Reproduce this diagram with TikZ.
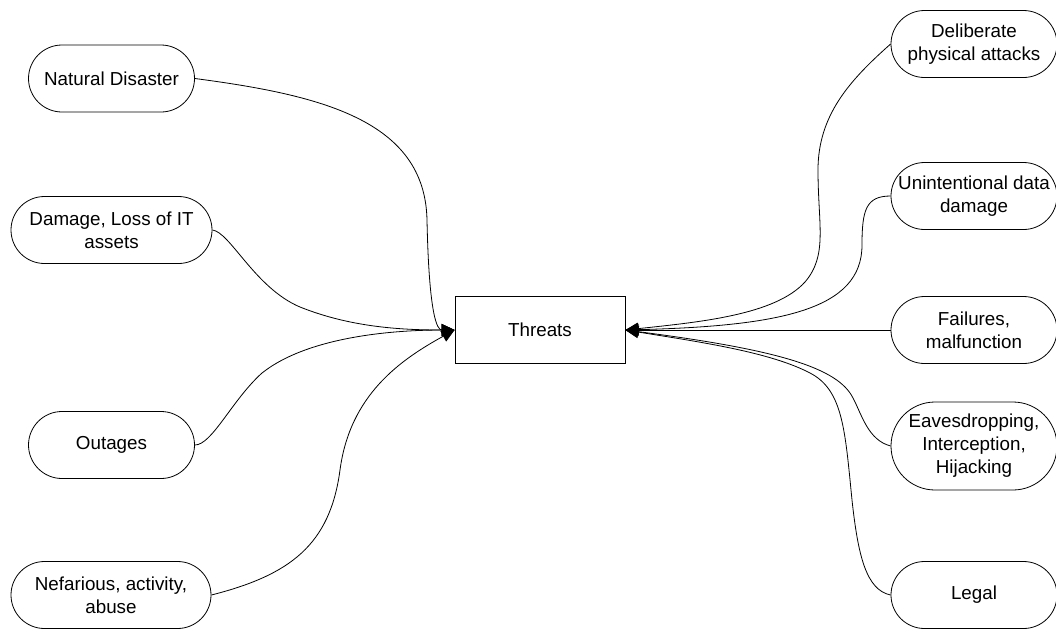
\documentclass[tikz,border=0pt]{standalone}
\usepackage{fontspec}
\setmainfont{Liberation Sans}
\usetikzlibrary{shapes.misc,arrows.meta}

\begin{document}
\begin{tikzpicture}[x=0.5pt,y=-0.5pt,
    threat/.style={rounded rectangle,draw,align=center,minimum width=85pt,minimum height=33.5pt,inner xsep=1pt,font=\fontsize{9.4}{11.5}\selectfont},
    core/.style={rectangle,draw,minimum width=85pt,minimum height=33.5pt,font=\fontsize{9.4}{11.5}\selectfont},
    conn/.style={-{Triangle[length=6.5pt,width=6pt]}}]
        \useasboundingbox (0,0) rectangle (1056,628);
        \clip (0,0) rectangle (1056,628);

        % 中间:Threats
        \node[core] (thr) at (540,330) {Threats};

        % 左侧
        \node[threat] (nd) at (111.5,78.5) {Natural Disaster};
        \node[threat,minimum width=102.5pt] (dmg) at (111.5,230) {Damage, Loss of IT\\assets};
        \node[threat] (outg) at (111.5,445) {Outages};
        \node[threat,minimum width=102pt] (nef) at (111,595) {Nefarious, activity,\\abuse};

        % 右侧
        \node[threat] (delib) at (974,44) {Deliberate\\physical attacks};
        \node[threat] (unint) at (974,196) {Unintentional data\\damage};
        \node[threat] (fail) at (974,330) {Failures,\\malfunction};
        \node[threat,minimum height=44pt] (eaves) at (974,446) {Eavesdropping,\\Interception,\\Hijacking};
        \node[threat] (legal) at (974,595) {Legal};

        % 左侧连线
        \draw[conn] (nd.east) .. controls (320,95) and (425,120) .. (427,220) .. controls (429,315) and (437,330) .. (thr.west);
        \draw[conn] (dmg.east) .. controls (230,232) and (255,288) .. (300,307) .. controls (350,327) and (400,330) .. (thr.west);
        \draw[conn] (outg.east) .. controls (212,445) and (232,400) .. (262,373) .. controls (310,335) and (400,330) .. (thr.west);
        \draw[conn] (nef.east) .. controls (290,575) and (330,545) .. (340,470) .. controls (350,395) and (400,360) .. (thr.west);

        % 右侧连线
        \draw[conn] (delib.west) .. controls (850,80) and (818,115) .. (818,170) .. controls (818,225) and (828,255) .. (805,282) .. controls (775,315) and (700,322) .. (thr.east);
        \draw[conn] (unint.west) .. controls (866,196) and (862,210) .. (862,245) .. controls (862,310) and (780,326) .. (thr.east);
        \draw[conn] (fail.west) -- (thr.east);
        \draw[conn] (eaves.west) .. controls (868,440) and (862,415) .. (853,398) .. controls (838,368) and (780,350) .. (thr.east);
        \draw[conn] (legal.west) .. controls (866,590) and (858,555) .. (852,500) .. controls (845,430) and (843,390) .. (810,373) .. controls (770,352) and (700,342) .. (thr.east);
\end{tikzpicture}
\end{document}
